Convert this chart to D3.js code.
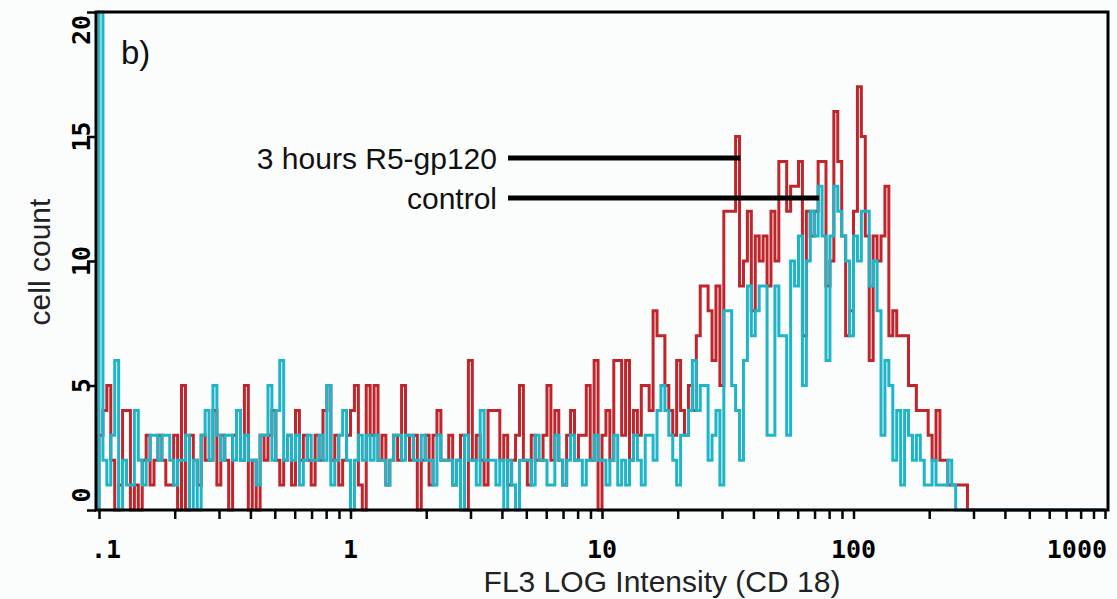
<!DOCTYPE html>
<html>
<head>
<meta charset="utf-8">
<script src="https://cdn.jsdelivr.net/npm/d3@7"></script>
<style>
  body { margin: 0; background: #fff; }
  svg { display: block; }
</style>
</head>
<body>
<div id="chart"></div>
<script>
const width = 1117;
const height = 599;

// 256 channels over 4 log decades (.1 - 1000), counts
const redCounts = [
  3,4,5,2,0,1,4,4,0,1,0,2,3,1,2,3,
  2,1,1,3,0,5,0,3,2,1,3,2,2,4,1,3,
  2,0,3,4,2,5,0,2,0,3,2,3,4,2,1,2,
  3,1,4,2,3,2,1,3,2,4,5,2,3,1,2,3,
  4,5,1,0,5,3,5,2,3,1,2,3,2,5,3,2,
  3,0,2,3,1,3,4,2,2,3,1,2,3,0,6,2,
  3,2,1,4,4,4,2,3,1,2,3,5,2,1,3,2,
  2,3,5,2,4,2,1,3,4,2,3,3,5,2,6,0,
  3,4,2,6,6,3,6,2,4,3,5,5,4,8,7,7,
  5,4,3,6,4,3,5,4,7,9,9,8,6,9,5,12,
  12,12,15,9,10,12,8,11,10,11,9,12,10,14,14,12,
  13,13,14,7,12,11,12,14,14,9,10,16,14,11,7,8,
  12,17,15,11,6,11,10,11,13,7,8,7,7,7,5,5,
  4,4,4,3,2,4,2,2,1,1,1,1,1,0,0,0,
  0,0,0,0,0,0,0,0,0,0,0,0,0,0,0,0,
  0,0,0,0,0,0,0,0,0,0,0,0,0,0,0,0
];

const cyanCounts = [
  20,2,1,3,6,0,2,1,1,4,2,1,2,3,3,2,
  3,3,2,1,2,2,3,0,2,0,3,4,2,5,3,2,
  3,3,2,4,2,3,2,2,1,3,3,5,2,4,6,2,
  3,2,3,1,2,3,2,2,3,2,5,1,2,3,4,2,
  0,2,3,2,3,2,3,2,2,1,2,3,3,2,3,3,
  2,2,3,2,2,1,3,2,2,2,1,2,0,3,2,2,
  1,4,2,2,2,1,2,0,2,1,0,2,2,2,1,3,
  2,2,1,1,3,2,1,2,3,2,2,1,2,2,3,2,
  2,1,2,3,1,2,1,2,3,2,1,3,3,2,4,5,
  4,3,2,1,3,3,4,6,4,5,5,2,3,4,1,8,
  8,5,4,2,6,9,7,8,9,9,3,3,9,7,7,3,
  10,9,11,5,10,12,11,13,11,6,11,13,12,11,10,7,
  11,10,12,12,9,10,8,3,6,5,2,4,1,4,3,2,
  3,2,1,1,2,1,1,1,2,1,0,0,0,0,0,0,
  0,0,0,0,0,0,0,0,0,0,0,0,0,0,0,0,
  0,0,0,0,0,0,0,0,0,0,0,0,0,0,0,0
];

const xDomain = [0.1, 1000];
const majorTicks = [0.1, 1, 10, 100, 1000];
const majorLabels = ['.1', '1', '10', '100', '1000'];
const yTicks = [0, 5, 10, 15, 20];

const annotations = [
  { text: '3 hours R5-gp120', y: 158, endValue: 35.5 },
  { text: 'control', y: 198, endValue: 73 }
];

const frame = { left: 96, right: 1108, top: 12, bottom: 510 };

const x = d3.scaleLog().domain(xDomain).range([99, 1105]);
const y = d3.scaleLinear().domain([0, 20]).range([frame.bottom, frame.top]);

const nCh = redCounts.length;
const edge = i => xDomain[0] * Math.pow(10, 4 * i / nCh);

const svg = d3.select('#chart').append('svg')
  .attr('width', width)
  .attr('height', height);

svg.append('rect').attr('width', width).attr('height', height).attr('fill', '#fbfdfd');

const toPoints = counts => {
  const pts = [{ e: edge(0), v: 0 }];
  counts.forEach((v, i) => pts.push({ e: edge(i), v }));
  pts.push({ e: edge(nCh), v: 0 });
  return pts;
};

const line = d3.line()
  .x(d => x(d.e))
  .y(d => y(d.v))
  .curve(d3.curveStepAfter);

svg.append('path')
  .datum(toPoints(redCounts))
  .attr('d', line)
  .attr('fill', 'none')
  .attr('stroke', '#c0252c')
  .attr('stroke-width', 3);

svg.append('path')
  .datum(toPoints(cyanCounts))
  .attr('d', line)
  .attr('fill', 'none')
  .attr('stroke', '#1fb5c8')
  .attr('stroke-width', 3);

// frame
svg.append('rect')
  .attr('x', frame.left)
  .attr('y', frame.top)
  .attr('width', frame.right - frame.left)
  .attr('height', frame.bottom - frame.top)
  .attr('fill', 'none')
  .attr('stroke', '#000')
  .attr('stroke-width', 3);

// x ticks
const xAxis = d3.axisBottom(x)
  .tickValues(x.ticks())
  .tickSize(9)
  .tickFormat('');

const gx = svg.append('g')
  .attr('transform', `translate(0, ${frame.bottom})`)
  .call(xAxis);
gx.select('.domain').remove();
gx.selectAll('.tick line').attr('stroke', '#000').attr('stroke-width', 2.5);

svg.selectAll('.xlabel')
  .data(majorTicks)
  .enter()
  .append('text')
  .attr('class', 'xlabel')
  .attr('x', (d, i) => i === 0 ? x(d) - 8 : (i === 4 ? x(d) + 2 : x(d)))
  .attr('y', 558)
  .attr('text-anchor', (d, i) => i === 0 ? 'start' : (i === 4 ? 'end' : 'middle'))
  .style('font-family', '"DejaVu Sans Mono", monospace')
  .style('font-weight', 'bold')
  .style('font-size', '25px')
  .text((d, i) => majorLabels[i]);

// y ticks
const gy = svg.append('g')
  .attr('transform', `translate(${frame.left}, 0)`)
  .call(d3.axisLeft(y).tickValues(yTicks).tickSize(9).tickFormat(''));
gy.select('.domain').remove();
gy.selectAll('.tick line').attr('stroke', '#000').attr('stroke-width', 2.5);

svg.selectAll('.ylabel')
  .data(yTicks)
  .enter()
  .append('text')
  .attr('class', 'ylabel')
  .attr('transform', d => `translate(90, ${Math.min(Math.max(y(d), 30), 495)}) rotate(-90)`)
  .attr('text-anchor', 'middle')
  .style('font-family', '"DejaVu Sans Mono", monospace')
  .style('font-weight', 'bold')
  .style('font-size', '25px')
  .text(d => d);

// axis titles
svg.append('text')
  .attr('transform', 'translate(50, 262) rotate(-90)')
  .attr('text-anchor', 'middle')
  .style('font-family', '"Liberation Sans", Arial, sans-serif')
  .style('font-size', '30px')
  .style('fill', '#222')
  .text('cell count');

svg.append('text')
  .attr('x', 662)
  .attr('y', 592)
  .attr('text-anchor', 'middle')
  .style('font-family', '"Liberation Sans", Arial, sans-serif')
  .style('font-size', '30px')
  .style('fill', '#222')
  .text('FL3 LOG Intensity (CD 18)');

svg.append('text')
  .attr('x', 121)
  .attr('y', 64)
  .style('font-family', '"Liberation Sans", Arial, sans-serif')
  .style('font-size', '33px')
  .style('fill', '#111')
  .text('b)');

// annotations
annotations.forEach(a => {
  svg.append('text')
    .attr('x', 497)
    .attr('y', a.y + 11)
    .attr('text-anchor', 'end')
    .style('font-family', '"Liberation Sans", Arial, sans-serif')
    .style('font-size', '30px')
    .style('fill', '#111')
    .text(a.text);
  svg.append('line')
    .attr('x1', 508)
    .attr('x2', x(a.endValue))
    .attr('y1', a.y)
    .attr('y2', a.y)
    .attr('stroke', '#000')
    .attr('stroke-width', 5);
});
</script>
</body>
</html>
